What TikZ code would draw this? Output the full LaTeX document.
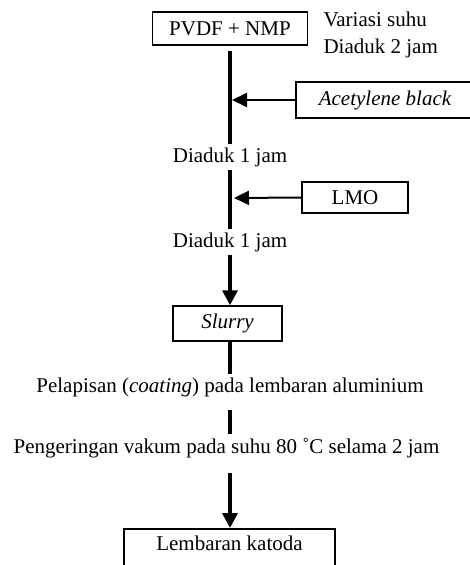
\documentclass[tikz,border=0pt]{standalone}
\usepackage{fontspec}
\setmainfont{Liberation Serif}
\usetikzlibrary{arrows.meta}

\tikzset{
  kotak/.style={draw, line width=1.5pt, inner sep=0pt},
  teks/.style={anchor=base},
  garis/.style={line width=3.5pt},
  panah/.style={line width=3.5pt, -{Triangle[length=15pt,width=15pt]}},
  panahkecil/.style={line width=2pt, -{Triangle[length=15pt,width=14pt]}}
}

\begin{document}
\begin{tikzpicture}[x=1pt, y=-1pt, font=\fontsize{21}{25}\selectfont]
  \def\kolom{230} % posisi garis tengah
  \clip (0,0) rectangle (470,565);
  \fill[white] (0,0) rectangle (470,565);

  \node[kotak, minimum width=155pt, minimum height=33pt] (pvdf) at (\kolom,28.5) {PVDF + NMP};
  \node[teks, anchor=base west] (suhu) at (320,26) {Variasi suhu};
  \node[teks, anchor=base west] (aduk2) at (320,53) {Diaduk 2 jam};

  \node[kotak, minimum width=178pt, minimum height=36pt] (acet) at (385,100) {\itshape Acetylene black};
  \node[teks] (aduk1a) at (\kolom,162) {Diaduk 1 jam};
  \node[kotak, minimum width=106pt, minimum height=31pt] (lmo) at (355,197.5) {LMO};
  \node[teks] (aduk1b) at (\kolom,247) {Diaduk 1 jam};
  \node[kotak, minimum width=109pt, minimum height=35pt] (slurry) at (227.5,323.5) {\itshape Slurry};
  \node[teks] (coat) at (\kolom,392) {Pelapisan (\textit{coating}) pada lembaran aluminium};
  \node[teks] (kering) at (226.5,453) {Pengeringan vakum pada suhu 80 ˚C selama 2 jam};
  \node[kotak, anchor=north, minimum width=211pt, inner ysep=6pt, text height=16pt, text depth=30pt] (katoda) at (229.5,528) {Lembaran katoda};

  \coordinate (j1) at (232,100);
  \coordinate (j2) at (234,198);

  \draw[garis, shorten <=5pt] (pvdf.south) -- (pvdf.south |- aduk1a.north);
  \draw[panahkecil] (acet.west) -- (j1);
  \draw[garis] (\kolom,0 |- aduk1a.south) -- (\kolom,0 |- aduk1b.north);
  \draw[panahkecil] (lmo.west) -- (j2);
  \draw[panah] (aduk1b.south) -- (aduk1b.south |- slurry.north);
  \draw[garis] (aduk1b.south |- slurry.south) -- (aduk1b.south |- coat.north);
  \draw[garis, shorten <=10pt] (coat.south) -- (coat.south |- kering.north);
  \draw[panah, shorten <=12pt] (coat.south |- kering.south) -- (coat.south |- katoda.north);
\end{tikzpicture}
\end{document}
